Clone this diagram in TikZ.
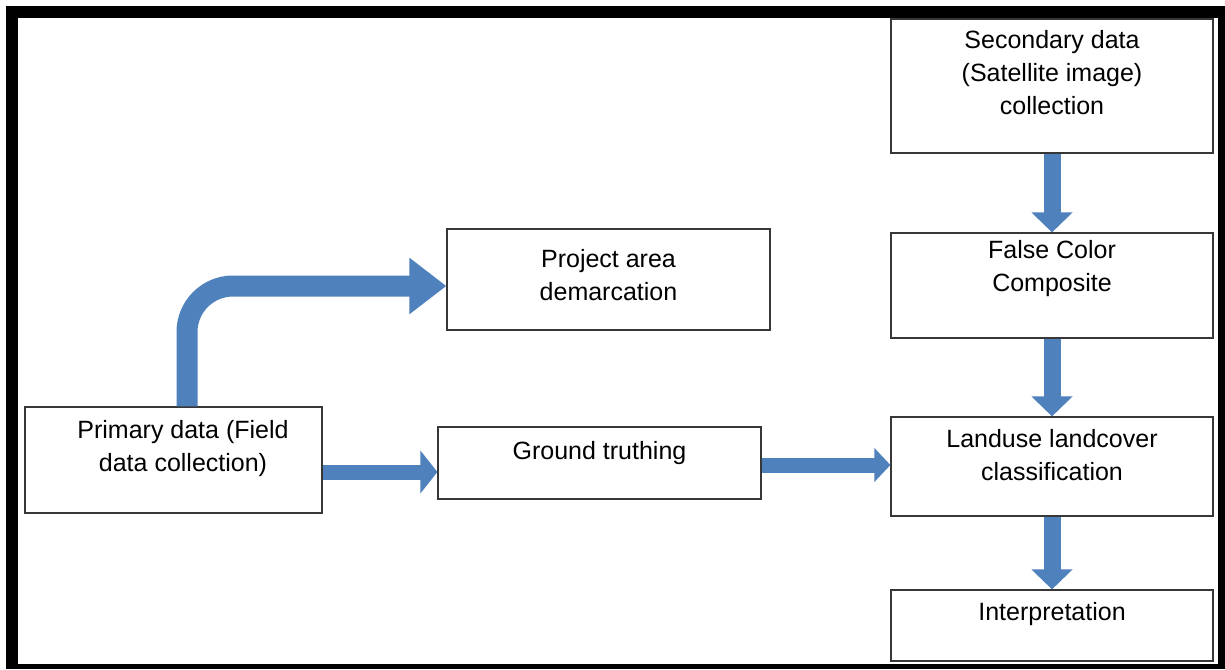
\documentclass[tikz,border=0pt]{standalone}
\usepackage{fontspec}
\setmainfont{Liberation Sans}
\usetikzlibrary{arrows.meta,calc}
\definecolor{arrblue}{RGB}{79,129,189}
\definecolor{boxline}{RGB}{55,55,55}
\begin{document}
\begin{tikzpicture}[x=1pt,y=-1pt,
  box/.style={draw=boxline, line width=1.2pt, fill=white, inner sep=0pt},
  txt/.style={font=\fontsize{25}{33}\selectfont, align=center, inner sep=0pt, text=black},
  vblk/.style={draw=arrblue, line width=17pt, -{Triangle[width=40pt,length=20pt]}},
  hblkA/.style={draw=arrblue, line width=15pt, -{Triangle[width=42pt,length=17pt]}},
  hblkB/.style={draw=arrblue, line width=15pt, -{Triangle[width=33pt,length=16pt]}},
  cblk/.style={draw=arrblue, line width=21pt, rounded corners=46pt, -{Triangle[width=54pt,length=37pt]}}
]
\useasboundingbox (0,0) rectangle (1225,669);
% frame
\fill[black] (6,6) rectangle (1225,669);
\fill[white] (18,18) rectangle (1218,664);

% boxes
\node[box, minimum width=322pt, minimum height=134pt] (sec)  at (1052,86) {};
\node[box, minimum width=322pt, minimum height=105pt] (fcc)  at (1052,285.5) {};
\node[box, minimum width=322pt, minimum height=99pt]  (lu)   at (1052,466.5) {};
\node[box, minimum width=322pt, minimum height=71pt]  (int)  at (1052,625.5) {};
\node[box, minimum width=297pt, minimum height=106pt] (prim) at (173.5,460) {};
\node[box, minimum width=323pt, minimum height=72pt]  (gt)   at (599.5,463) {};
\node[box, minimum width=323pt, minimum height=101pt] (proj) at (608.5,279.5) {};

% texts
\node[txt] (secT)  at (1052,73) {Secondary data\\(Satellite image)\\collection};
\node[txt] (fccT)  at (1052,269) {False Color\\Composite};
\node[txt] (luT)   at (1052,455) {Landuse landcover\\classification};
\node[txt] (intT)  at (1052,614) {Interpretation};
\node[txt] (primT) at (183,449) {Primary data (Field\\data collection)};
\node[txt] (gtT)   at (599.5,453) {Ground truthing};
\node[txt] (projT) at (608.5,275) {Project area\\demarcation};

% helper coordinates
\coordinate (yA) at (0,472);
\coordinate (yB) at (0,465);
\coordinate (cx) at (187,0);
\coordinate (cy) at (0,286);

% connectors
\draw[vblk] (sec.south) -- (fcc.north);
\draw[vblk] (fcc.south) -- (lu.north);
\draw[vblk] (lu.south) -- (int.north);
\draw[hblkA] (prim.east |- yA) -- (gt.west |- yA);
\draw[hblkB] (gt.east |- yB) -- (lu.west |- yB);
\draw[cblk] (prim.north -| cx) |- (proj.west |- cy);
\end{tikzpicture}
\end{document}
